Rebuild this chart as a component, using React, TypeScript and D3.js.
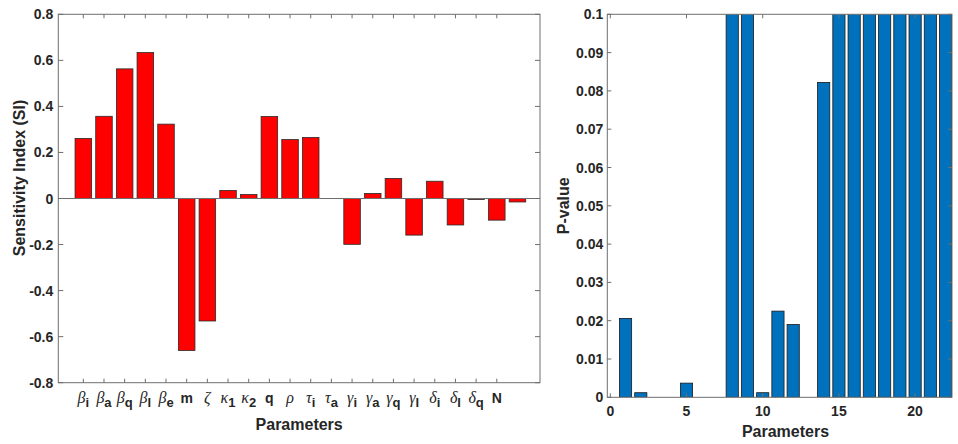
import React from 'react';
import * as d3 from 'd3';

const paramLabels = ['β_i','β_a','β_q','β_l','β_e','m','ζ','κ_1','κ_2','q','ρ','τ_i','τ_a','γ_i','γ_a','γ_q','γ_l','δ_i','δ_l','δ_q','N'];
const siValues = [0.261,0.357,0.563,0.634,0.323,-0.660,-0.532,0.035,0.017,0.356,0.256,0.265,0.0,-0.199,0.022,0.087,-0.159,0.075,-0.115,-0.004,-0.094,-0.015];
const siTicks = [-0.8,-0.6,-0.4,-0.2,0,0.2,0.4,0.6,0.8];
const siTickLabels = ['-0.8','-0.6','-0.4','-0.2','0','0.2','0.4','0.6','0.8'];

const pValues = [0.0206,0.0012,0,0,0.0037,0,0,0.45,0.38,0.0012,0.0225,0.019,0,0.0822,0.6,0.5,0.7,0.3,0.8,0.55,0.65,0.4];
const pYTicks = [0,0.01,0.02,0.03,0.04,0.05,0.06,0.07,0.08,0.09,0.1];
const pYTickLabels = ['0','0.01','0.02','0.03','0.04','0.05','0.06','0.07','0.08','0.09','0.1'];
const pXTicks = [0,5,10,15,20];

const SANS = '"Liberation Sans", Arial, Helvetica, sans-serif';
const SERIF = '"Liberation Serif", "Times New Roman", serif';
const AX = '#262626';
const FRAME = '#6e6e6e';

export default function App() {
  // Left panel
  const L = { left: 58.3, right: 540, top: 14.3, bottom: 382.7 };
  const lx = d3.scaleLinear().domain([-0.21, 23.09]).range([L.left, L.right]);
  const ly = d3.scaleLinear().domain([-0.8, 0.8]).range([L.bottom, L.top]);
  const lbw = lx(0.8) - lx(0);

  // Right panel
  const R = { left: 607.3, right: 952, top: 14.3, bottom: 397.3 };
  const rx = d3.scaleLinear().domain([-0.197, 22.42]).range([R.left, R.right]);
  const ry = d3.scaleLinear().domain([0, 0.1]).range([R.bottom, R.top]);
  const rbw = rx(0.8) - rx(0);

  return (
    <svg width={958} height={444} style={{ position: 'absolute', left: 0, top: 0, background: '#fff' }}>
      <defs>
        <clipPath id="rclip">
          <rect x={R.left} y={R.top} width={R.right - R.left} height={R.bottom - R.top} />
        </clipPath>
      </defs>

      {/* ===== Left panel ===== */}
      <g>
        {siValues.map((v, i) => {
          const x = lx(i + 1) - lbw / 2;
          const y0 = ly(Math.max(0, v));
          const y1 = ly(Math.min(0, v));
          return (
            <rect key={i} x={x} y={y0} width={lbw} height={Math.max(0, y1 - y0)}
              fill="#ff0000" stroke="#2a2a2a" strokeWidth={0.8} />
          );
        })}
        {/* zero baseline */}
        <line x1={L.left} x2={L.right} y1={ly(0)} y2={ly(0)} stroke={FRAME} strokeWidth={1} />
        {/* frame */}
        <rect x={L.left} y={L.top} width={L.right - L.left} height={L.bottom - L.top}
          fill="none" stroke={FRAME} strokeWidth={1} />
        {/* y ticks */}
        {siTicks.map((t, i) => (
          <g key={'ly' + i}>
            <line x1={L.left} x2={L.left + 5} y1={ly(t)} y2={ly(t)} stroke={FRAME} />
            <line x1={L.right} x2={L.right - 5} y1={ly(t)} y2={ly(t)} stroke={FRAME} />
            <text x={L.left - 5} y={ly(t)} dy="0.36em" textAnchor="end" fontFamily={SANS}
              fontWeight="bold" fontSize={14} fill={AX}>{siTickLabels[i]}</text>
          </g>
        ))}
        {/* x ticks */}
        {paramLabels.map((lab, i) => {
          const x = lx(i + 1);
          const parts = lab.split('_');
          const main = parts[0];
          const sub = parts[1];
          const isGreek = /[α-ωΑ-Ω]/.test(main);
          return (
            <g key={'lx' + i}>
              <line x1={x} x2={x} y1={L.bottom} y2={L.bottom - 4} stroke={FRAME} />
              <line x1={x} x2={x} y1={L.top} y2={L.top + 4} stroke={FRAME} />
              <text x={x} y={403} textAnchor="middle" fill={AX}>
                <tspan fontFamily={isGreek ? SERIF : SANS} fontStyle={isGreek ? 'italic' : 'normal'}
                  fontWeight={isGreek ? 'normal' : 'bold'} fontSize={isGreek ? 16 : 14}>{main}</tspan>
                {sub ? (
                  <tspan fontFamily={SANS} fontWeight="bold" fontSize={13} dy={4}>{sub}</tspan>
                ) : null}
              </text>
            </g>
          );
        })}
        <text x={(L.left + L.right) / 2} y={430} textAnchor="middle" fontFamily={SANS}
          fontWeight="bold" fontSize={16} fill={AX}>Parameters</text>
        <text transform={`translate(24.5,178) rotate(-90)`} textAnchor="middle" fontFamily={SANS}
          fontWeight="bold" fontSize={16} fill={AX}>Sensitivity Index (SI)</text>
      </g>

      {/* ===== Right panel ===== */}
      <g>
        <g clipPath="url(#rclip)">
          {pValues.map((v, i) => {
            const x = rx(i + 1) - rbw / 2;
            const y0 = ry(v);
            const h = ry(0) - y0;
            return h > 0 ? (
              <rect key={i} x={x} y={y0} width={rbw} height={h}
                fill="#0072bd" stroke="#1a1a1a" strokeWidth={0.8} />
            ) : null;
          })}
        </g>
        <rect x={R.left} y={R.top} width={R.right - R.left} height={R.bottom - R.top}
          fill="none" stroke={FRAME} strokeWidth={1} />
        {pYTicks.map((t, i) => (
          <g key={'ry' + i}>
            <line x1={R.left} x2={R.left + 4} y1={ry(t)} y2={ry(t)} stroke={FRAME} />
            <line x1={R.right} x2={R.right - 4} y1={ry(t)} y2={ry(t)} stroke={FRAME} />
            <text x={R.left - 4} y={ry(t)} dy="0.36em" textAnchor="end" fontFamily={SANS}
              fontWeight="bold" fontSize={14} fill={AX}>{pYTickLabels[i]}</text>
          </g>
        ))}
        {pXTicks.map((t, i) => (
          <g key={'rx' + i}>
            <line x1={rx(t)} x2={rx(t)} y1={R.bottom} y2={R.bottom - 4} stroke={FRAME} />
            <line x1={rx(t)} x2={rx(t)} y1={R.top} y2={R.top + 4} stroke={FRAME} />
            <text x={rx(t)} y={416} textAnchor="middle" fontFamily={SANS}
              fontWeight="bold" fontSize={14} fill={AX}>{String(t)}</text>
          </g>
        ))}
        <text x={785.5} y={437} textAnchor="middle" fontFamily={SANS}
          fontWeight="bold" fontSize={16} fill={AX}>Parameters</text>
        <text transform={`translate(569,205.8) rotate(-90)`} textAnchor="middle" fontFamily={SANS}
          fontWeight="bold" fontSize={16} fill={AX}>P-value</text>
      </g>
    </svg>
  );
}
